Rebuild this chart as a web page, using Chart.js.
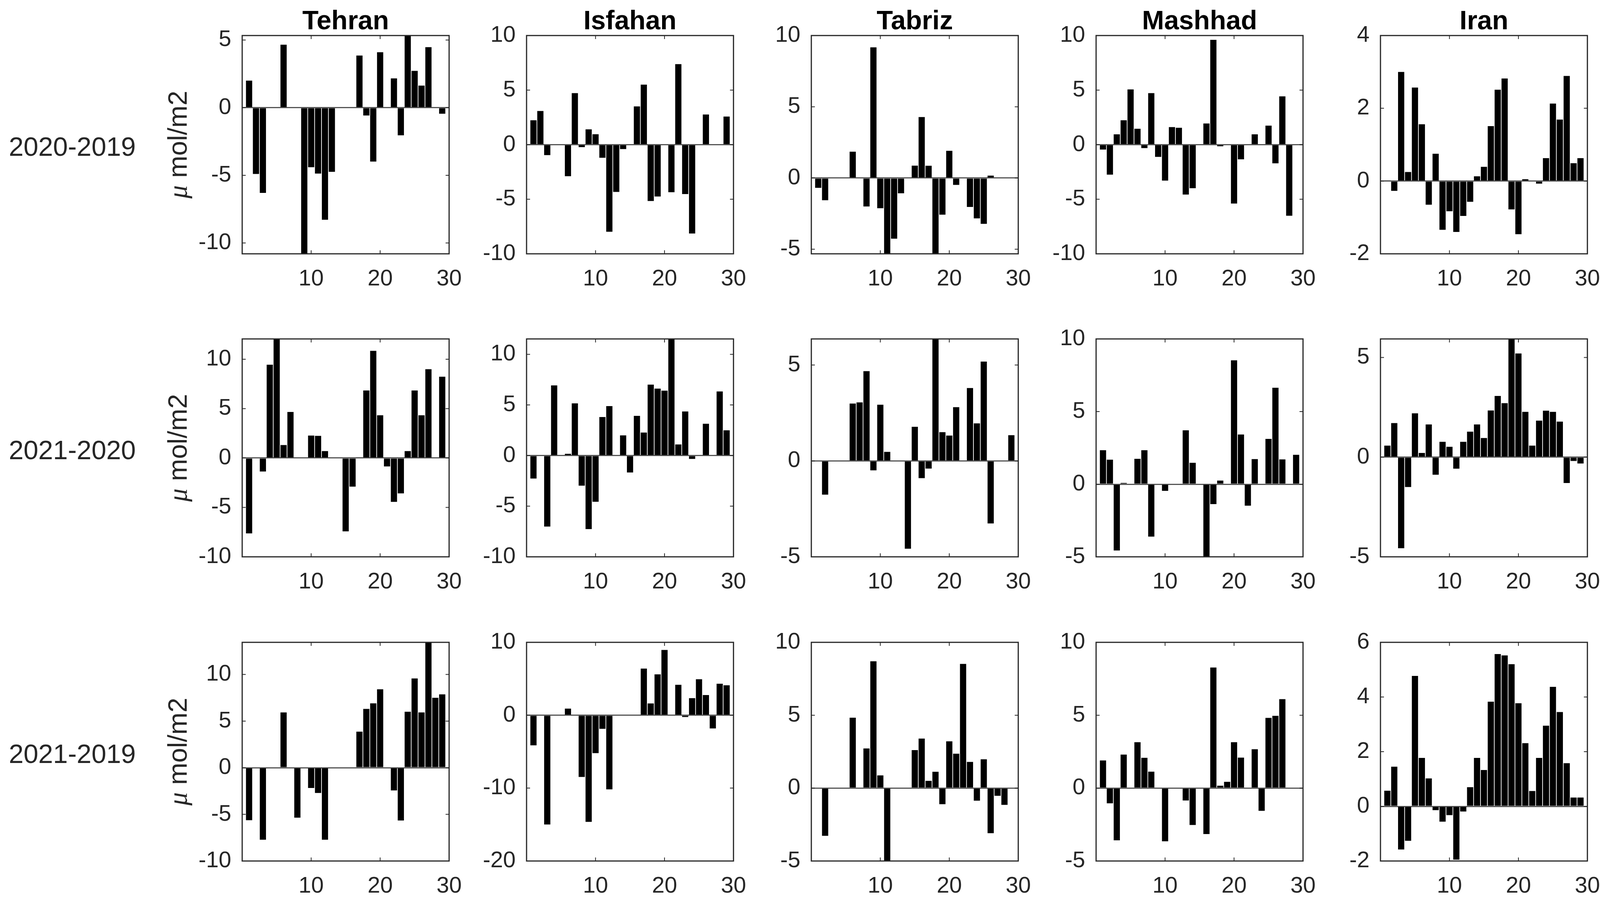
<!DOCTYPE html>
<html>
<head>
<meta charset="utf-8">
<script src="https://cdn.jsdelivr.net/npm/chart.js@4.4.1/dist/chart.umd.min.js"></script>
<style>
  html, body { margin: 0; padding: 0; background: #fff; overflow: hidden; width: 4129px; height: 2310px; }
  #wrap { position: relative; width: 4129px; height: 2310px; background: #fff; overflow: hidden; }
  #wrap canvas { position: absolute; }
</style>
</head>
<body>
<div id="wrap"></div>
<script>
// days of the month on the x axis
const days = [1, 2, 3, 4, 5, 6, 7, 8, 9, 10, 11, 12, 13, 14, 15, 16, 17, 18, 19, 20, 21, 22, 23, 24, 25, 26, 27, 28, 29];
const xTicks = [10, 20, 30];

const cities = ['Tehran', 'Isfahan', 'Tabriz', 'Mashhad', 'Iran'];
const periods = ['2020-2019', '2021-2020', '2021-2019'];
const yUnit = ' mol/m2';

// 2020-2019
const tehran_20_19 = [2.0, -4.9, -6.3, 0, 0, 4.65, 0, 0, -10.8, -4.4, -4.87, -8.28, -4.74, 0, 0, 0, 3.85, -0.58, -3.98, 4.1, 0, 2.16, -2.04, 5.33, 2.72, 1.63, 4.47, 0, -0.45];
const isfahan_20_19 = [2.24, 3.09, -0.96, 0, 0, -2.89, 4.72, -0.22, 1.4, 0.96, -1.2, -7.98, -4.33, -0.4, 0, 3.51, 5.5, -5.16, -4.75, 0, -4.36, 7.38, -4.53, -8.14, 0, 2.76, 0, 0, 2.58];
const tabriz_20_19 = [-0.69, -1.56, 0, 0, 0, 1.85, 0, -2.0, 9.17, -2.12, -5.32, -4.26, -1.07, 0, 0.87, 4.28, 0.86, -5.32, -2.57, 1.91, -0.48, 0, -2.03, -2.83, -3.22, 0.17, 0, 0, 0];
const mashhad_20_19 = [-0.45, -2.75, 0.95, 2.24, 5.06, 1.46, -0.31, 4.72, -1.12, -3.29, 1.61, 1.55, -4.57, -3.99, 0, 1.94, 9.61, -0.14, 0, -5.39, -1.34, 0, 0.95, 0, 1.74, -1.71, 4.43, -6.51, 0];
const iran_20_19 = [0.01, -0.27, 3.0, 0.25, 2.57, 1.56, -0.65, 0.75, -1.34, -0.83, -1.4, -0.96, -0.57, 0.13, 0.39, 1.51, 2.51, 2.82, -0.78, -1.46, 0.05, 0, -0.07, 0.63, 2.13, 1.69, 2.89, 0.49, 0.63];

// 2021-2020
const tehran_21_20 = [-7.63, 0, -1.37, 9.44, 12.05, 1.31, 4.66, 0, 0, 2.27, 2.24, 0.7, 0, 0, -7.42, -2.9, 0.07, 6.83, 10.84, 4.32, -0.85, -4.44, -3.58, 0.7, 6.83, 4.32, 8.99, 0, 8.23];
const isfahan_21_20 = [-2.27, 0, -7.01, 6.93, 0, 0.17, 5.16, -2.97, -7.26, -4.56, 3.81, 4.89, 0, 1.99, -1.67, 3.92, 2.27, 7.01, 6.61, 6.41, 11.52, 1.1, 4.36, -0.33, 0, 3.14, 0, 6.33, 2.5];
const tabriz_21_20 = [0, -1.76, 0, 0, 0, 2.99, 3.05, 4.68, -0.49, 2.93, 0.47, 0, 0, -4.58, 1.78, -0.9, -0.4, 6.36, 1.5, 1.32, 2.8, 0, 3.8, 1.96, 5.18, -3.26, 0, 0, 1.34];
const mashhad_21_20 = [2.34, 1.69, -4.56, 0.09, 0, 1.75, 2.34, -3.61, 0, -0.46, 0, 0, 3.71, 1.47, 0, -5.08, -1.37, 0.25, 0, 8.53, 3.42, -1.48, 1.73, 0, 3.12, 6.64, 1.71, 0, 2.02];
const iran_21_20 = [0.58, 1.71, -4.57, -1.5, 2.2, 0.21, 1.64, -0.88, 0.77, 0.52, -0.58, 0.77, 1.28, 1.64, 0.96, 2.34, 3.07, 2.71, 5.93, 5.2, 2.27, 0.58, 1.83, 2.33, 2.27, 1.78, -1.3, -0.19, -0.32];

// 2021-2019
const tehran_21_19 = [-5.63, 0, -7.72, 0, 0, 5.93, 0, -5.35, 0, -2.17, -2.71, -7.72, 0, 0, 0, 0, 3.87, 6.3, 6.9, 8.41, 0, -2.43, -5.66, 6.0, 9.57, 5.93, 13.44, 7.5, 7.86];
const isfahan_21_19 = [-4.13, 0, -14.99, 0, 0, 0.91, 0, -8.47, -14.63, -5.2, -1.86, -10.17, 0, 0, 0, 0, 6.4, 1.62, 5.61, 8.95, 0, 4.18, -0.24, 2.34, 4.94, 2.77, -1.81, 4.32, 4.11];
const tabriz_21_19 = [0, -3.27, 0, 0, 0, 4.83, 0, 2.72, 8.7, 0.87, -5.4, 0, 0, 0, 2.61, 3.4, 0.5, 1.12, -1.1, 3.21, 2.36, 8.52, 1.8, -0.86, 1.98, -3.09, -0.53, -1.15, 0];
const mashhad_21_19 = [1.9, -1.04, -3.58, 2.3, 0, 3.15, 2.08, 1.13, 0, -3.65, 0, 0, -0.85, -2.53, 0, -3.15, 8.27, 0.16, 0.43, 3.15, 2.09, 0, 2.67, -1.56, 4.82, 4.96, 6.1, 0, 0];
const iran_21_19 = [0.57, 1.45, -1.58, -1.26, 4.77, 1.77, 1.02, -0.14, -0.56, -0.32, -1.95, -0.19, 0.7, 1.77, 1.33, 3.83, 5.57, 5.52, 5.2, 3.77, 2.31, 0.56, 1.77, 2.95, 4.37, 3.45, 1.58, 0.32, 0.32];

// y axis ranges [min, max] and tick values
const yRange_20_19 = [[-10.8, 5.33], [-10, 10], [-5.32, 10], [-10, 10], [-2, 4]];
const yRange_21_20 = [[-10, 12.05], [-10, 11.52], [-5, 6.36], [-5, 10], [-5, 5.93]];
const yRange_21_19 = [[-10, 13.44], [-20, 10], [-5, 10], [-5, 10], [-2, 6]];
const yTicks_20_19 = [[-10, -5, 0, 5], [-10, -5, 0, 5, 10], [-5, 0, 5, 10], [-10, -5, 0, 5, 10], [-2, 0, 2, 4]];
const yTicks_21_20 = [[-10, -5, 0, 5, 10], [-10, -5, 0, 5, 10], [-5, 0, 5], [-5, 0, 5, 10], [-5, 0, 5]];
const yTicks_21_19 = [[-10, -5, 0, 5, 10], [-20, -10, 0, 10], [-5, 0, 5, 10], [-5, 0, 5, 10], [-2, 0, 2, 4, 6]];

const rows = [
  { values: [tehran_20_19, isfahan_20_19, tabriz_20_19, mashhad_20_19, iran_20_19], ranges: yRange_20_19, ticks: yTicks_20_19 },
  { values: [tehran_21_20, isfahan_21_20, tabriz_21_20, mashhad_21_20, iran_21_20], ranges: yRange_21_20, ticks: yTicks_21_20 },
  { values: [tehran_21_19, isfahan_21_19, tabriz_21_19, mashhad_21_19, iran_21_19], ranges: yRange_21_19, ticks: yTicks_21_19 }
];

// layout of the plot boxes (page pixels)
const colLeft = [620, 1348, 2077, 2806, 3534];
const boxW = 550;
const rowTop = [91, 868, 1645];
const rowH = [559, 558, 560];
const AXW = 200, TOPPAD = 90, XAXH = 120, RIGHTPAD = 42;

const FONT = '"Liberation Sans", Arial, Helvetica, sans-serif';
const INK = '#262626';
Chart.defaults.font.family = FONT;

const panelDecor = {
  id: 'panelDecor',
  afterDatasetsDraw(chart) {
    const { ctx, chartArea: a, scales } = chart;
    ctx.save();
    ctx.strokeStyle = INK;
    ctx.lineWidth = 2;
    const tl = 9;
    ctx.beginPath();
    scales.x.ticks.forEach(t => {
      const px = scales.x.getPixelForValue(t.value);
      if (px <= a.left + 2 || px >= a.right - 2) return;
      ctx.moveTo(px, a.bottom); ctx.lineTo(px, a.bottom - tl);
      ctx.moveTo(px, a.top); ctx.lineTo(px, a.top + tl);
    });
    scales.y.ticks.forEach(t => {
      const py = scales.y.getPixelForValue(t.value);
      if (py <= a.top + 2 || py >= a.bottom - 2) return;
      ctx.moveTo(a.left, py); ctx.lineTo(a.left + tl, py);
      ctx.moveTo(a.right, py); ctx.lineTo(a.right - tl, py);
    });
    ctx.stroke();
    ctx.lineWidth = 3;
    ctx.strokeRect(a.left, a.top, a.right - a.left, a.bottom - a.top);
    ctx.restore();
  },
  afterDraw(chart, args, opts) {
    const { ctx, chartArea: a } = chart;
    const cy = (a.top + a.bottom) / 2;
    ctx.save();
    ctx.fillStyle = '#000';
    if (opts.title) {
      ctx.font = 'bold 68px ' + FONT;
      ctx.textAlign = 'center';
      ctx.textBaseline = 'alphabetic';
      ctx.fillText(opts.title, (a.left + a.right) / 2, a.top - 16);
    }
    ctx.fillStyle = INK;
    if (opts.rowLabel) {
      ctx.font = '68px ' + FONT;
      ctx.textAlign = 'center';
      ctx.textBaseline = 'middle';
      ctx.fillText(opts.rowLabel, a.left - 435, cy + 10);
    }
    if (opts.yLabel) {
      ctx.translate(a.left - 142, cy);
      ctx.rotate(-Math.PI / 2);
      ctx.textBaseline = 'alphabetic';
      ctx.textAlign = 'left';
      const muFont = 'italic 68px "Liberation Serif", "DejaVu Serif", serif';
      const txtFont = '68px ' + FONT;
      ctx.font = muFont;
      const w1 = ctx.measureText('\u03bc').width;
      ctx.font = txtFont;
      const w2 = ctx.measureText(opts.yLabel).width;
      const x0 = -(w1 + w2) / 2;
      ctx.font = muFont;
      ctx.fillText('\u03bc', x0, 0);
      ctx.font = txtFont;
      ctx.fillText(opts.yLabel, x0 + w1, 0);
    }
    ctx.restore();
  }
};

const wrap = document.getElementById('wrap');

rows.forEach((row, r) => {
  cities.forEach((city, c) => {
    const left = c === 0 ? 0 : colLeft[c] - AXW;
    const padLeft = c === 0 ? colLeft[c] - AXW : 0;
    const width = colLeft[c] + boxW + RIGHTPAD - left;
    const top = rowTop[r] - TOPPAD;
    const height = TOPPAD + rowH[r] + XAXH;

    const cv = document.createElement('canvas');
    cv.width = width; cv.height = height;
    cv.style.left = left + 'px'; cv.style.top = top + 'px';
    cv.style.width = width + 'px'; cv.style.height = height + 'px';
    wrap.appendChild(cv);

    const vals = row.values[c];
    const [ymin, ymax] = row.ranges[c];
    const yt = row.ticks[c];

    new Chart(cv, {
      type: 'bar',
      data: {
        datasets: [{
          data: days.map((d, i) => ({ x: d, y: vals[i] })),
          backgroundColor: '#000',
          borderWidth: 0,
          barPercentage: 0.9,
          categoryPercentage: 1
        }]
      },
      options: {
        responsive: false,
        animation: false,
        devicePixelRatio: 1,
        events: [],
        layout: { padding: { left: padLeft, right: RIGHTPAD, top: TOPPAD, bottom: 0 } },
        plugins: {
          legend: { display: false },
          tooltip: { enabled: false },
          title: { display: false },
          panelDecor: {
            title: r === 0 ? city : null,
            rowLabel: c === 0 ? periods[r] : null,
            yLabel: c === 0 ? yUnit : null
          }
        },
        scales: {
          x: {
            type: 'linear',
            offset: false,
            min: 0,
            max: 30,
            afterBuildTicks: s => { s.ticks = xTicks.map(v => ({ value: v })); },
            afterFit: s => { s.height = XAXH; },
            grid: { display: false, drawTicks: false },
            border: { display: false },
            ticks: { padding: 30, color: INK, font: { size: 58 }, maxRotation: 0, autoSkip: false, callback: v => String(v) }
          },
          y: {
            type: 'linear',
            min: ymin,
            max: ymax,
            afterBuildTicks: s => { s.ticks = yt.map(v => ({ value: v })); },
            afterFit: s => { s.width = AXW; },
            grid: {
              drawTicks: false,
              lineWidth: 3,
              color: ctx => (ctx.tick && ctx.tick.value === 0) ? '#555' : 'rgba(0,0,0,0)'
            },
            border: { display: false },
            ticks: { padding: 28, color: INK, font: { size: 58 }, autoSkip: false, callback: v => String(v) }
          }
        }
      },
      plugins: [panelDecor]
    });
  });
});
</script>
</body>
</html>
